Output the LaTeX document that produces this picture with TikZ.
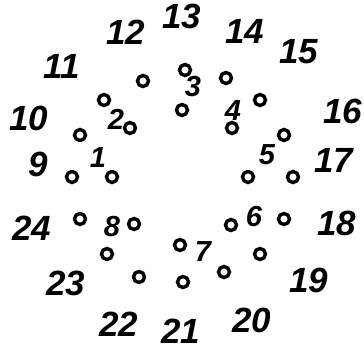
\documentclass[tikz,border=0pt]{standalone}
\usepackage{fontspec}
\setmainfont{Liberation Sans}
\begin{document}
\begin{tikzpicture}[x=1pt,y=-1pt,
  hole/.style={circle,draw,line width=3.4pt,minimum size=11pt,inner sep=0pt},
  pin/.style={font=\fontsize{29}{29}\selectfont\bfseries\itshape,inner sep=0pt},
  post/.style={font=\fontsize{35}{35}\selectfont\bfseries\itshape,inner sep=0pt}]
  \useasboundingbox (0,0) rectangle (364,353);
  % small holes
  \foreach \x/\y [count=\i] in {143/81,185/70,226/78,104/100,130/128,182/110,
      260/100,232/128,80/135,72/177,112/177,284/135,248/177,293/177,
      80/219,134/224,107/254,139/277,231/225,284/219,180/245,260/254,
      224/272,183/282}
    \node[hole] (h\i) at (\x,\y) {};
  % inner numbers
  \foreach \t/\x/\y in {1/98/158,2/116/119,3/193/87,4/233/111,
      5/267/155,6/254/217,7/203/252,8/112/227}
    \node[pin] (n\t) at (\x,\y) {\t};
  % outer numbers
  \foreach \t/\x/\y in {9/38/164,10/29/118,11/62/66,12/126/32,13/182/16,
      14/245/31,15/299/52,16/343/111,17/334/160,18/337/223,19/309/280,
      20/252/320,21/181/331,22/119/324,23/66/283,24/32/228}
    \node[post] (p\t) at (\x,\y) {\t};
\end{tikzpicture}
\end{document}
